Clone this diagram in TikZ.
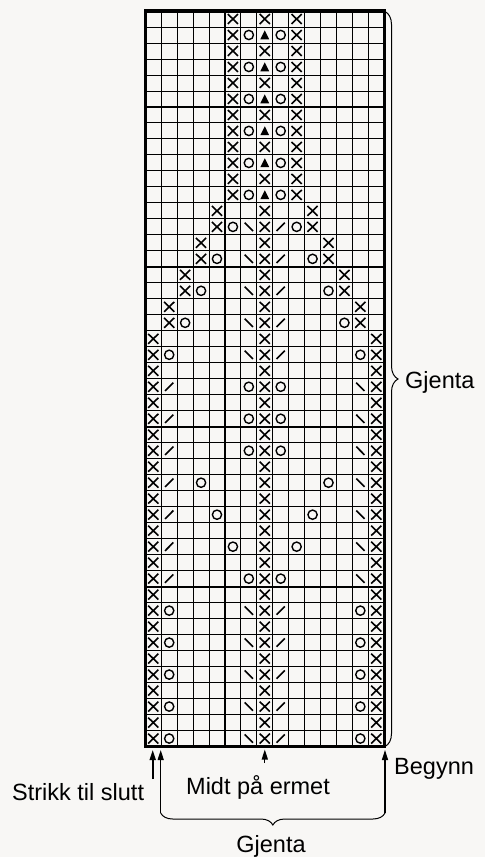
\documentclass[tikz,border=0pt]{standalone}
\usepackage{fontspec}
\setmainfont{Liberation Sans}
\usetikzlibrary{arrows.meta,decorations.pathreplacing}
\definecolor{bg}{RGB}{248,247,245}
\begin{document}
\begin{tikzpicture}[x=1pt,y=-1pt,
  gridthin/.style={line width=0.9pt,black},
  gridmid/.style={line width=2pt,black},
  gridouter/.style={line width=3.3pt,black},
  symline/.style={line width=1.6pt,black,line cap=butt},
  lbl/.style={inner sep=0pt,font=\fontsize{23.5}{28}\selectfont},
  arr/.style={line width=1.3pt,-{Triangle[length=10pt,width=6pt]}},
  bracestyle/.style={line width=1pt,decorate},
  xx/.pic={\draw[symline] (-0.32,-0.31)--(0.32,0.31) (-0.32,0.31)--(0.32,-0.31);},
  oo/.pic={\draw[line width=1.4pt] (0,0) circle[radius=0.29];},
  tri/.pic={\fill (-0.28,0.27)--(0.28,0.27)--(0,-0.29)--cycle;},
  bs/.pic={\draw[symline] (-0.26,-0.26)--(0.26,0.26);},
  fs/.pic={\draw[symline] (-0.26,0.26)--(0.26,-0.26);}
]
\fill[bg] (0,0) rectangle (485,857);
\useasboundingbox (0,0) rectangle (485,857);

\newcommand\cellsym[3]{\pic at ({#2-0.5},{#3-0.5}) {#1};}

\begin{scope}[shift={(145.3pt,-11pt)}, x=15.93pt, y=-15.99pt]
  % thin grid
  \foreach \i in {1,...,14} \draw[gridthin] (\i,0) -- (\i,46);
  \foreach \j in {1,...,45} \draw[gridthin] (0,\j) -- (15,\j);
  % heavier lines
  \draw[gridmid] (5,0) -- (5,46);
  \foreach \j in {6,16,26,36} \draw[gridmid] (0,\j) -- (15,\j);
  \draw[gridouter] (0,0) rectangle (15,46);

  % X stitches
  \foreach \r in {1,3,...,11} {\foreach \c in {6,8,10} {\cellsym{xx}{\c}{\r}}}
  \foreach \r in {2,4,...,12} {\foreach \c in {6,10} {\cellsym{xx}{\c}{\r}}}
  \foreach \r in {13,14} {\foreach \c in {5,8,11} {\cellsym{xx}{\c}{\r}}}
  \foreach \r in {15,16} {\foreach \c in {4,8,12} {\cellsym{xx}{\c}{\r}}}
  \foreach \r in {17,18} {\foreach \c in {3,8,13} {\cellsym{xx}{\c}{\r}}}
  \foreach \r in {19,20} {\foreach \c in {2,8,14} {\cellsym{xx}{\c}{\r}}}
  \foreach \r in {21,...,46} {\foreach \c in {1,8,15} {\cellsym{xx}{\c}{\r}}}

  % top motif rows
  \foreach \r in {2,4,...,12} {\cellsym{oo}{7}{\r}\cellsym{oo}{9}{\r}\cellsym{tri}{8}{\r}}

  % increasing rows
  \foreach \r/\a/\b in {14/6/10,16/5/11,18/4/12,20/3/13,22/2/14}
    {\cellsym{oo}{\a}{\r}\cellsym{oo}{\b}{\r}\cellsym{bs}{7}{\r}\cellsym{fs}{9}{\r}}

  % middle section
  \foreach \r/\a/\b in {24/7/9,26/7/9,28/7/9,30/4/12,32/5/11,34/6/10,36/7/9}
    {\cellsym{oo}{\a}{\r}\cellsym{oo}{\b}{\r}\cellsym{fs}{2}{\r}\cellsym{bs}{14}{\r}}

  % bottom section
  \foreach \r in {38,40,...,46}
    {\cellsym{oo}{2}{\r}\cellsym{oo}{14}{\r}\cellsym{bs}{7}{\r}\cellsym{fs}{9}{\r}}
\end{scope}

% coordinates for annotations
\coordinate (brT) at (385,11.5);
\coordinate (brB) at (385,746.5);
\coordinate (a1s) at (152.7,779);
\coordinate (a1e) at (152.7,750);
\coordinate (a2s) at (160.7,813);
\coordinate (a2e) at (160.7,750);
\coordinate (a3s) at (385,813);
\coordinate (a3e) at (385,750);
\coordinate (ms) at (264.8,763);
\coordinate (me) at (264.8,749.5);

% right brace
\draw[bracestyle, decoration={brace,amplitude=13pt}] (brT) -- (brB);
% bottom brace
\draw[bracestyle, decoration={brace,amplitude=12pt}] (a3s) -- (a2s);

% arrows
\draw[arr, line width=1.8pt] (a1s) -- (a1e);
\draw[arr] (a2s) -- (a2e);
\draw[arr] (a3s) -- (a3e);
\draw[arr] (ms) -- (me);

% labels
\node[lbl, anchor=base west] (gjR) at (405,388) {Gjenta};
\node[lbl, anchor=base west] (begynn) at (394,774.5) {Begynn};
\node[lbl, anchor=base west] (midt) at (186,794) {Midt på ermet};
\node[lbl, anchor=base west] (strikk) at (12,800) {Strikk til slutt};
\node[lbl, anchor=base] (gjB) at (271,852) {Gjenta};
\end{tikzpicture}
\end{document}
